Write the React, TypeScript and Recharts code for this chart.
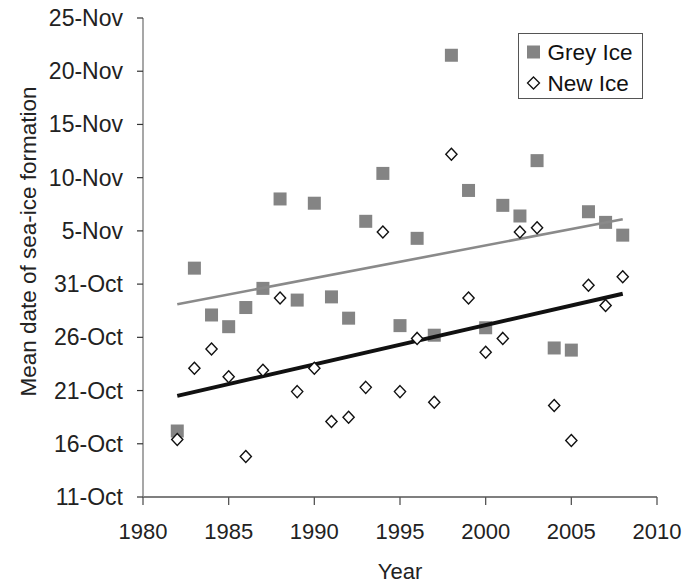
import React from "react";
import { ScatterChart, Scatter, XAxis, YAxis, Customized } from "recharts";

// Years of observation
const years = [
  1982, 1983, 1984, 1985, 1986, 1987, 1988, 1989, 1990, 1991, 1992, 1993, 1994,
  1995, 1996, 1997, 1998, 1999, 2000, 2001, 2002, 2003, 2004, 2005, 2006, 2007,
  2008,
];

// Mean formation date, expressed as days after 11-Oct
const greyIce = [
  6.2, 21.5, 17.1, 16.0, 17.8, 19.6, 28.0, 18.5, 27.6, 18.8, 16.8, 25.9, 30.4,
  16.1, 24.3, 15.2, 41.5, 28.8, 15.9, 27.4, 26.4, 31.6, 14.0, 13.8, 26.8, 25.8,
  24.6,
];
const newIce = [
  5.4, 12.1, 13.9, 11.3, 3.8, 11.9, 18.7, 9.9, 12.1, 7.1, 7.5, 10.3, 24.9, 9.9,
  14.9, 8.9, 32.2, 18.7, 13.6, 14.9, 24.9, 25.3, 8.6, 5.3, 19.9, 18.0, 20.7,
];

// Linear trend end points
const greyTrendYears = [1982, 2008];
const greyTrendValues = [18.1, 26.1];
const newTrendYears = [1982, 2008];
const newTrendValues = [9.5, 19.1];

// Axis ticks
const yTicks = [0, 5, 10, 15, 20, 25, 30, 35, 40, 45];
const yTickLabels = [
  "11-Oct",
  "16-Oct",
  "21-Oct",
  "26-Oct",
  "31-Oct",
  "5-Nov",
  "10-Nov",
  "15-Nov",
  "20-Nov",
  "25-Nov",
];
const xTicks = [1980, 1985, 1990, 1995, 2000, 2005, 2010];

const greyData = years.map((year, i) => ({ year, d: greyIce[i] }));
const newData = years.map((year, i) => ({ year, d: newIce[i] }));
const greyTrend = greyTrendYears.map((year, i) => ({ year, d: greyTrendValues[i] }));
const newTrend = newTrendYears.map((year, i) => ({ year, d: newTrendValues[i] }));

const FONT = "Arial, 'Liberation Sans', Helvetica, sans-serif";
const GREY = "#848484";

const SquareShape = (props: any) => {
  const { cx, cy } = props;
  if (cx == null || cy == null) return null;
  return <rect x={cx - 6.5} y={cy - 6.5} width={13} height={13} fill={GREY} />;
};

const DiamondShape = (props: any) => {
  const { cx, cy } = props;
  if (cx == null || cy == null) return null;
  const w = 5.6;
  const h = 6;
  return (
    <polygon
      points={`${cx},${cy - h} ${cx + w},${cy} ${cx},${cy + h} ${cx - w},${cy}`}
      fill="#fff"
      stroke="#111"
      strokeWidth={1.4}
    />
  );
};

const NoShape = () => null;

const YTick = (props: any) => {
  const { x, y, payload } = props;
  const idx = yTicks.indexOf(payload.value);
  return (
    <text
      x={x}
      y={y}
      textAnchor="end"
      dominantBaseline="central"
      fontFamily={FONT}
      fontSize={23}
      fill="#222"
    >
      {yTickLabels[idx]}
    </text>
  );
};

const XTick = (props: any) => {
  const { x, y, payload } = props;
  return (
    <text
      x={x}
      y={y}
      textAnchor="middle"
      dominantBaseline="central"
      fontFamily={FONT}
      fontSize={22}
      fill="#222"
    >
      {payload.value}
    </text>
  );
};

const Overlay = () => (
  <g>
    <text
      x={28}
      y={241.5}
      transform="rotate(-90 28 241.5)"
      textAnchor="middle"
      dominantBaseline="central"
      fontFamily={FONT}
      fontSize={22.5}
      fill="#222"
    >
      Mean date of sea-ice formation
    </text>
    <text
      x={400}
      y={571}
      textAnchor="middle"
      dominantBaseline="central"
      fontFamily={FONT}
      fontSize={22}
      fill="#222"
    >
      Year
    </text>
    <g transform="translate(518,33)">
      <rect x={0.5} y={0.5} width={124} height={65} fill="#fff" stroke="#555" strokeWidth={1} />
      <rect x={9} y={12.5} width={13} height={13} fill={GREY} />
      <text x={29.5} y={19} dominantBaseline="central" fontFamily={FONT} fontSize={22.5} fill="#111">
        Grey Ice
      </text>
      <polygon points="15.5,44 21.5,50 15.5,56 9.5,50" fill="#fff" stroke="#111" strokeWidth={1.3} />
      <text x={29.5} y={50} dominantBaseline="central" fontFamily={FONT} fontSize={22.5} fill="#111">
        New Ice
      </text>
    </g>
  </g>
);

export default function App() {
  return (
    <div style={{ width: 696, height: 582, margin: "-8px 0 0 -8px" }}>
      <ScatterChart
        width={696}
        height={582}
        margin={{ top: 18, right: 39, left: 0, bottom: 0 }}
      >
        <XAxis
          type="number"
          dataKey="year"
          domain={[1980, 2010]}
          ticks={xTicks}
          interval={0}
          height={85}
          tickSize={8}
          tickMargin={26}
          tick={<XTick />}
          axisLine={{ stroke: "#555", strokeWidth: 1.3 }}
          tickLine={{ stroke: "#555", strokeWidth: 1.3 }}
          allowDataOverflow
        />
        <YAxis
          type="number"
          dataKey="d"
          domain={[0, 45]}
          ticks={yTicks}
          interval={0}
          width={143}
          tickSize={6}
          tickMargin={14}
          tick={<YTick />}
          axisLine={{ stroke: "#8a8a8a", strokeWidth: 1.5 }}
          tickLine={{ stroke: "#333", strokeWidth: 1.2 }}
          allowDataOverflow
        />
        <Scatter
          name="Grey Ice"
          data={greyData}
          shape={<SquareShape />}
          isAnimationActive={false}
        />
        <Scatter
          name="Grey trend"
          data={greyTrend}
          line={{ stroke: "#8a8a8a", strokeWidth: 2.6 }}
          shape={<NoShape />}
          legendType="none"
          isAnimationActive={false}
        />
        <Scatter
          name="New trend"
          data={newTrend}
          line={{ stroke: "#111", strokeWidth: 4 }}
          shape={<NoShape />}
          legendType="none"
          isAnimationActive={false}
        />
        <Scatter
          name="New Ice"
          data={newData}
          shape={<DiamondShape />}
          isAnimationActive={false}
        />
        <Customized component={<Overlay />} />
      </ScatterChart>
    </div>
  );
}
